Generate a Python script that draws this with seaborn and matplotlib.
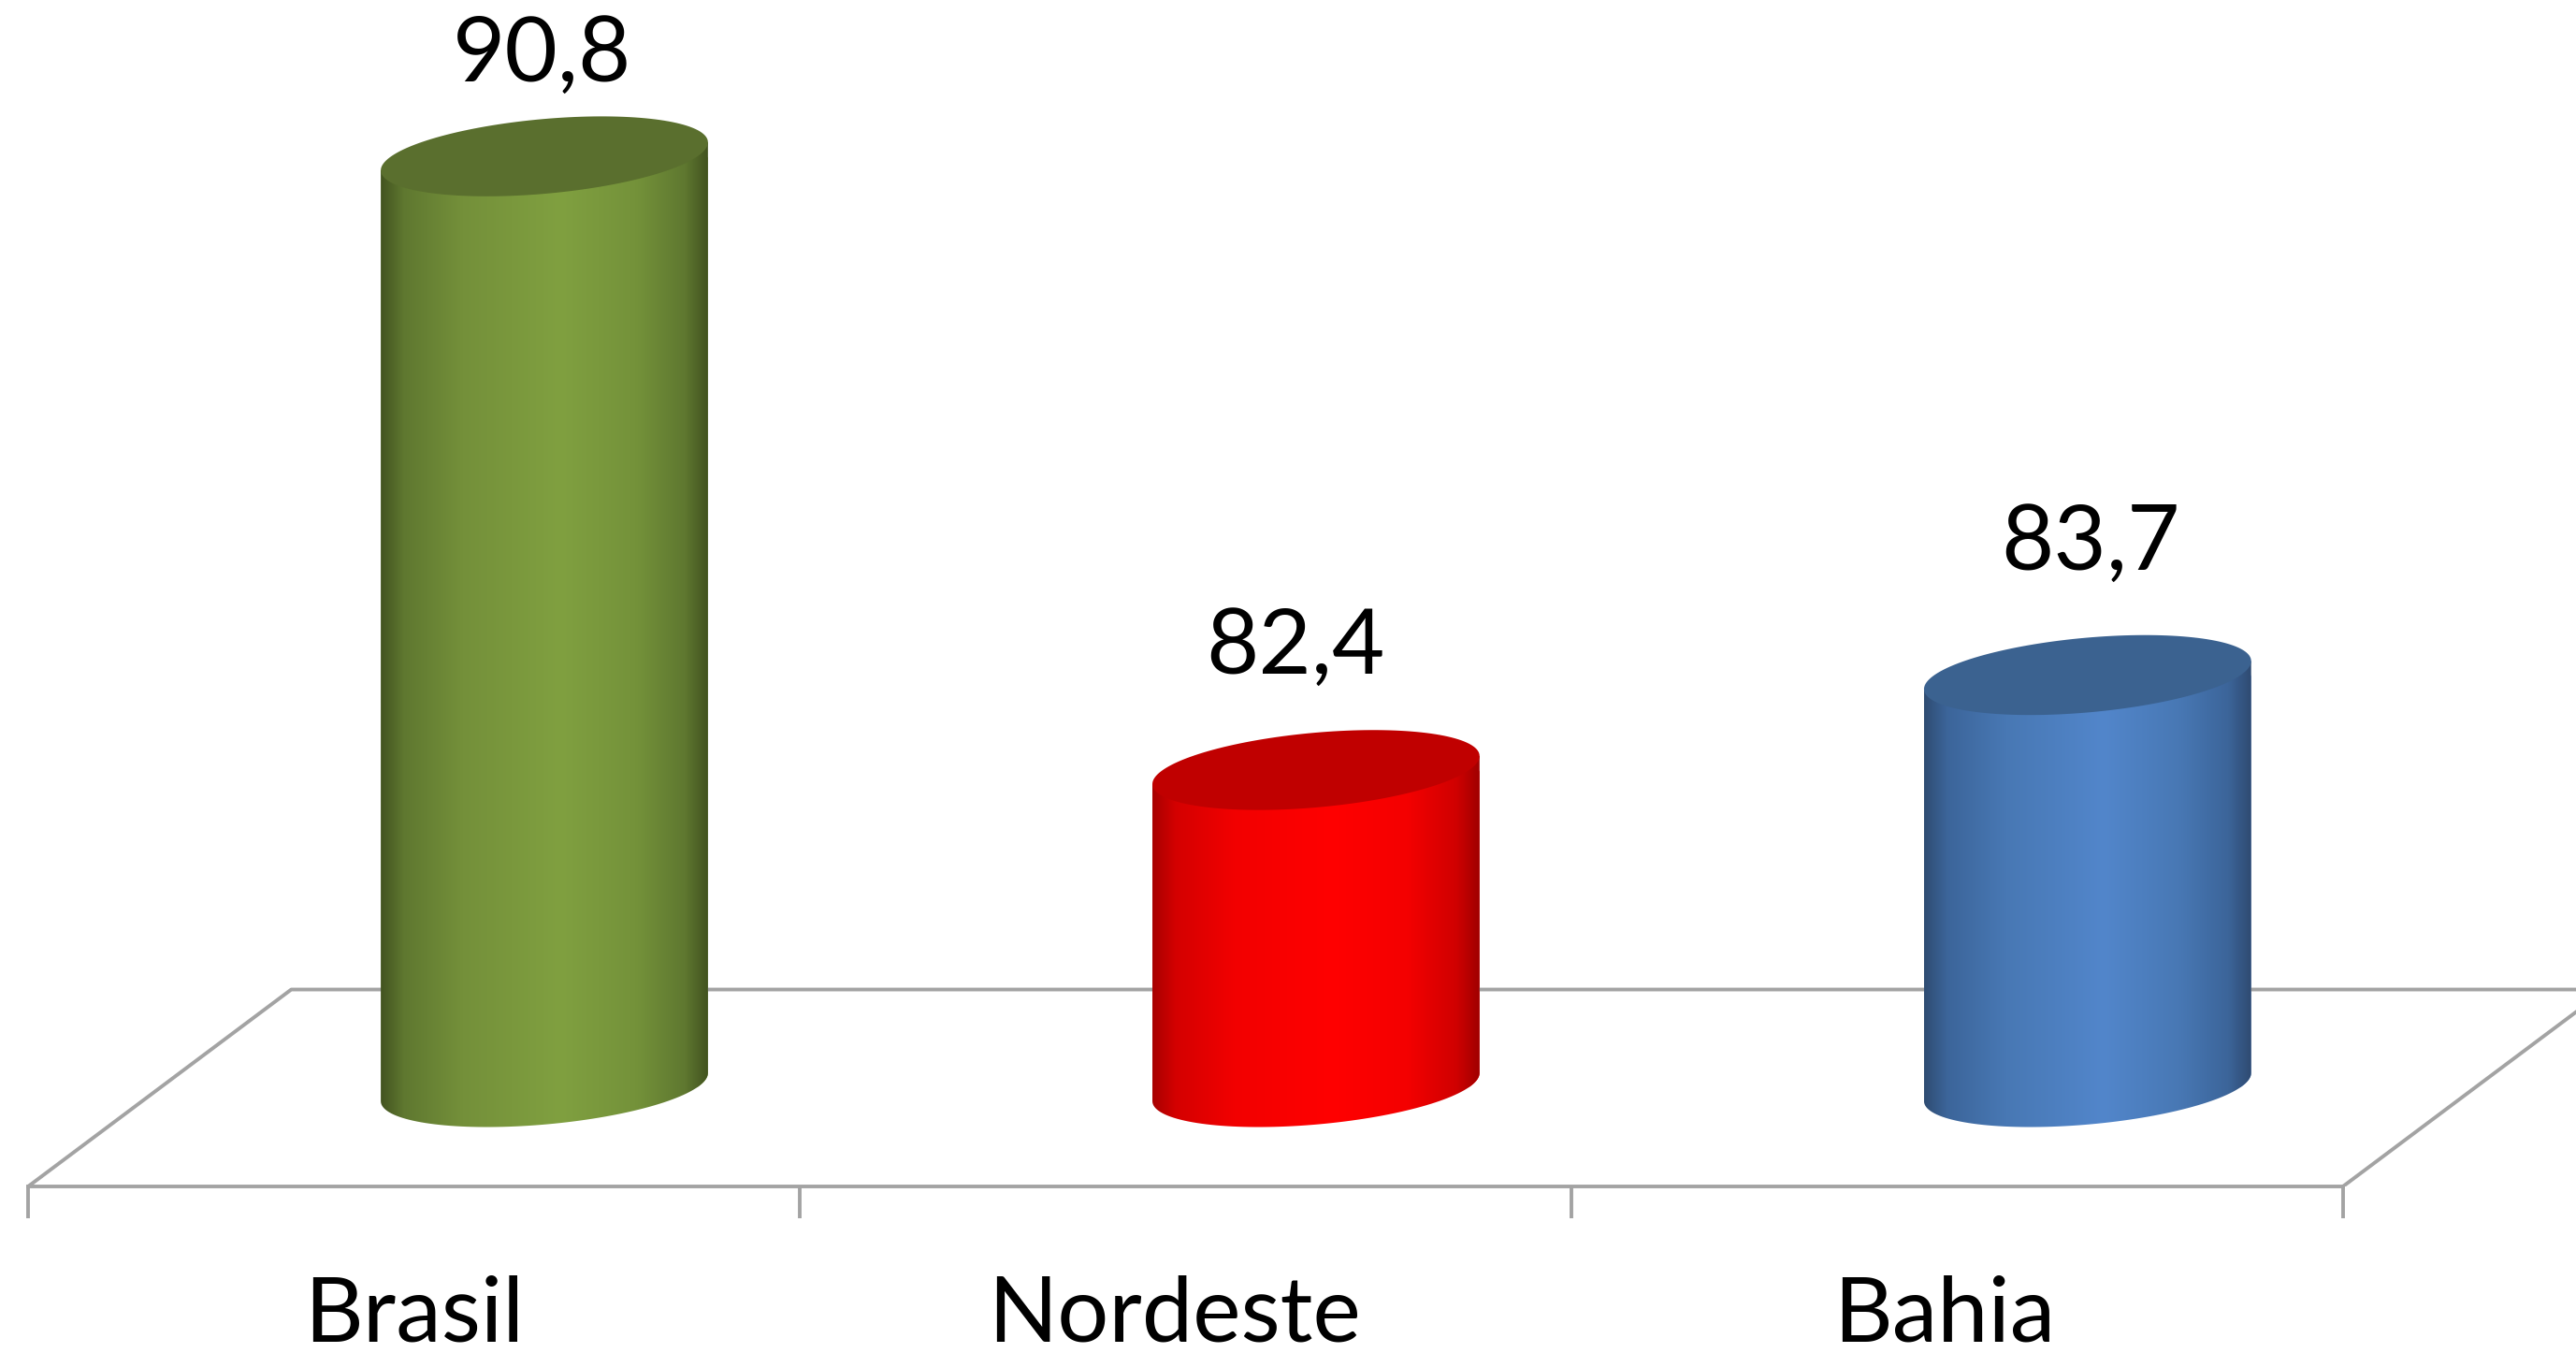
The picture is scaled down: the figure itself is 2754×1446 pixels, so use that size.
import numpy as np
import matplotlib
matplotlib.use("Agg")
import matplotlib.pyplot as plt
from matplotlib.colors import LinearSegmentedColormap
from matplotlib.patches import Polygon
import seaborn as sns

categories = ["Brasil", "Nordeste", "Bahia"]
values = [90.8, 82.4, 83.7]
value_labels = ["90,8", "82,4", "83,7"]

# shading of each cylinder, left edge to right edge
green_stops = ["#435420", "#5f7830", "#74903a", "#80a040", "#74923a", "#5f7830", "#435420"]
red_stops = ["#a80000", "#d40000", "#f20000", "#ff0000", "#f40000", "#d00000", "#a00000"]
blue_stops = ["#2f4d73", "#3c659a", "#4878b4", "#5286cb", "#4878b4", "#3c659a", "#2f4b72"]
shades = [green_stops, red_stops, blue_stops]
stop_pos = [0, 0.07, 0.25, 0.55, 0.78, 0.93, 1]
top_colors = ["#5a6f2e", "#c00000", "#3b6290"]
palette = ["#80a040", "#ff0000", "#5286cb"]

base = 78.06
floor_color = "#a3a3a3"
line_w = 2.8

sns.set_theme(style="white")
plt.rcParams["font.family"] = ["Lato", "DejaVu Sans"]

fig = plt.figure(figsize=(27.54, 14.46), dpi=100)
# axes stop at the front edge of the floor, that edge is the x axis
ax = fig.add_axes([0, 1 - 1268 / 1446, 1, 1268 / 1446])

sns.barplot(x=categories, y=values, hue=categories, palette=palette, saturation=1,
            width=0.424, legend=False, ax=ax)

x_min, x_max = -0.7055, 2.633
y_min, y_max = 76.70, 92.94

# ellipse size in data units, left side sits lower than the right
tilt = 15 / 78.1
squash = 40 / 78.1


def ellipse(cx, cy, half, t):
    return cx + half * np.cos(t), cy + tilt * np.cos(t) - squash * np.sin(t)


for patch, value, stops, top in zip(ax.patches, values, shades, top_colors):
    x0 = patch.get_x()
    w = patch.get_width()
    cx = x0 + w / 2
    half = w / 2
    patch.set_y(base)
    patch.set_height(value - base)

    # side of the cylinder, closed by the lower half of the base ellipse
    t = np.linspace(np.pi, 0, 80)
    bx, by = ellipse(cx, base, half, t)
    body_x = np.r_[x0, bx, x0 + w]
    body_y = np.r_[value - tilt, by, value + tilt]
    body = Polygon(np.c_[body_x, body_y], closed=True, transform=ax.transData,
                   facecolor="none", edgecolor="none")
    ax.add_patch(body)
    patch.set_clip_path(body)

    cmap = LinearSegmentedColormap.from_list("cyl", list(zip(stop_pos, stops)))
    img = ax.imshow(np.linspace(0, 1, 256)[None, :], cmap=cmap, aspect="auto",
                    extent=(x0, x0 + w, base - 1.2, value + 0.5), zorder=3,
                    interpolation="bilinear")
    img.set_clip_path(body)

    t = np.linspace(0, 2 * np.pi, 160)
    tx, ty = ellipse(cx, value, half, t)
    ax.fill(tx, ty, color=top, zorder=4, lw=0)

# floor of the 3d chart
left, right = -0.669, 2.331
depth_x, back = 0.341, base + (1166 - 1057) / 78.1 - 0.06
ax.plot([left, left + depth_x, x_max], [y_min, back, back], color=floor_color, lw=line_w, zorder=1)
ax.plot([right, right + depth_x], [y_min, back], color=floor_color, lw=line_w, zorder=1)

sns.despine(ax=ax, left=True, top=True, right=True)
ax.spines["bottom"].set_bounds(left, right)
ax.spines["bottom"].set_color(floor_color)
ax.spines["bottom"].set_linewidth(line_w)
ax.set_yticks([])
ax.set_xticks([-0.669, 0.331, 1.331, 2.331], labels=[])
ax.set_xticks([-0.169, 0.816, 1.815], labels=categories, minor=True)
ax.tick_params(axis="x", which="major", bottom=True, length=24.5, width=line_w, color=floor_color)
ax.tick_params(axis="x", which="minor", bottom=True, length=0, pad=68, labelsize=70, labelcolor="black")
ax.set_xlim(x_min, x_max)
ax.set_ylim(y_min, y_max)
ax.patch.set_alpha(0)

# labels sit above the top of each cylinder
label_dx = [-2, -22, 3]
label_dy = [80, 103, 113]
for i, (value, txt) in enumerate(zip(values, value_labels)):
    ax.annotate(txt, (i, value), xytext=(label_dx[i] * 0.72, label_dy[i] * 0.72),
                textcoords="offset points", ha="center", va="baseline",
                fontsize=70, color="black", zorder=5, annotation_clip=False)

fig.savefig("out.png", dpi=100, facecolor="white")
